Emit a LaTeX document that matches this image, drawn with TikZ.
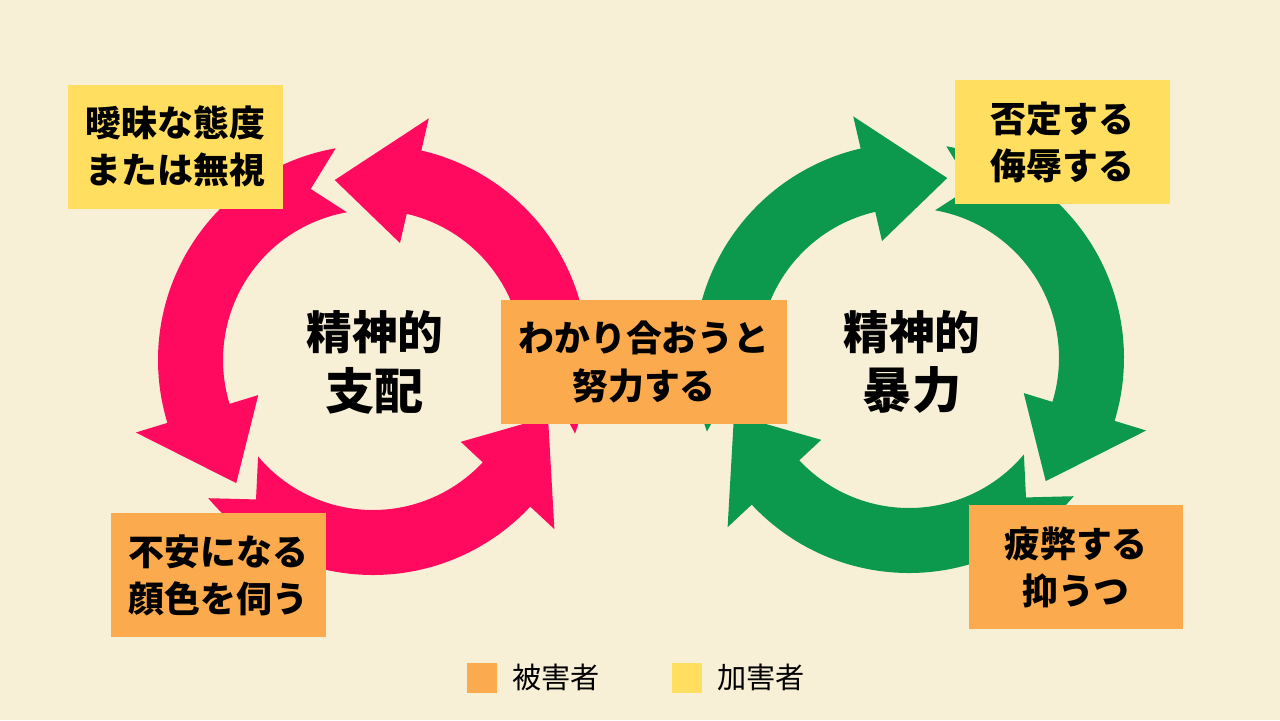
\documentclass[tikz,border=0pt]{standalone}
\usepackage{fontspec}
\setmainfont{Noto Sans CJK JP}
\usetikzlibrary{positioning}
\definecolor{paper}{HTML}{F8F0D6}
\definecolor{pinkarr}{HTML}{FF0A5F}
\definecolor{greenarr}{HTML}{0C994D}
\definecolor{victim}{HTML}{FBAA4D}
\definecolor{abuser}{HTML}{FFDE60}
% one arrow of a cycle, tail at angle #1
\newcommand{\cyclearrow}[1]{%
  \fill (#1:215) arc[start angle=#1, end angle={#1+97}, radius=215]
    -- ({#1+97}:248) -- ({#1+122}:184) -- ({#1+97}:120) -- ({#1+97}:150)
    arc[start angle={#1+97}, end angle=#1, radius=150] -- ({#1+10}:182) -- cycle;}
\begin{document}
\begin{tikzpicture}[x=0.1mm, y=0.1mm]
  \tikzset{
    box/.style = {minimum width=215*0.1mm, minimum height=124*0.1mm, inner sep=0pt,
      align=center, font=\fontsize{10.2pt}{13.4pt}\selectfont\bfseries},
    centre/.style = {align=center, font=\fontsize{13pt}{17pt}\selectfont\bfseries},
    legend/.style = {minimum size=30*0.1mm, inner sep=0pt}
  }
  \fill[paper] (0,0) rectangle (1280,720);
  \useasboundingbox (0,0) rectangle (1280,720);

  \begin{scope}[shift={(373,360)}, pinkarr]
    \foreach \a in {-20, 100, 220} {\cyclearrow{\a}}
  \end{scope}
  \begin{scope}[shift={(909,362)}, xscale=-1, greenarr]
    \foreach \a in {-20, 100, 220} {\cyclearrow{\a}}
  \end{scope}

  \node[centre] (dom) at (375,358) {精神的\\\fontsize{14pt}{17pt}\selectfont 支配};
  \node[centre] (vio) at (912,358) {精神的\\\fontsize{14pt}{17pt}\selectfont 暴力};

  \node[box, fill=abuser] (vague) at (175.5,573.5) {曖昧な態度\\または無視};
  \node[box, fill=abuser] (deny) at (1062.5,578) {否定する\\侮辱する};
  \node[box, fill=victim, minimum width=286*0.1mm] (effort) at (644,358) {わかり合おうと\\努力する};
  \node[box, fill=victim] (anx) at (218.5,145) {不安になる\\顔色を伺う};
  \node[box, fill=victim, minimum width=214*0.1mm] (tired) at (1076,153) {疲弊する\\抑うつ};

  \node[legend, fill=victim] (lv) at (482,42.5) {};
  \node[right=4pt of lv, inner sep=0pt, font=\fontsize{8.3pt}{10pt}\selectfont] (lvt) {被害者};
  \node[legend, fill=abuser] (la) at (687,42.5) {};
  \node[right=4pt of la, inner sep=0pt, font=\fontsize{8.3pt}{10pt}\selectfont] (lat) {加害者};
\end{tikzpicture}
\end{document}
